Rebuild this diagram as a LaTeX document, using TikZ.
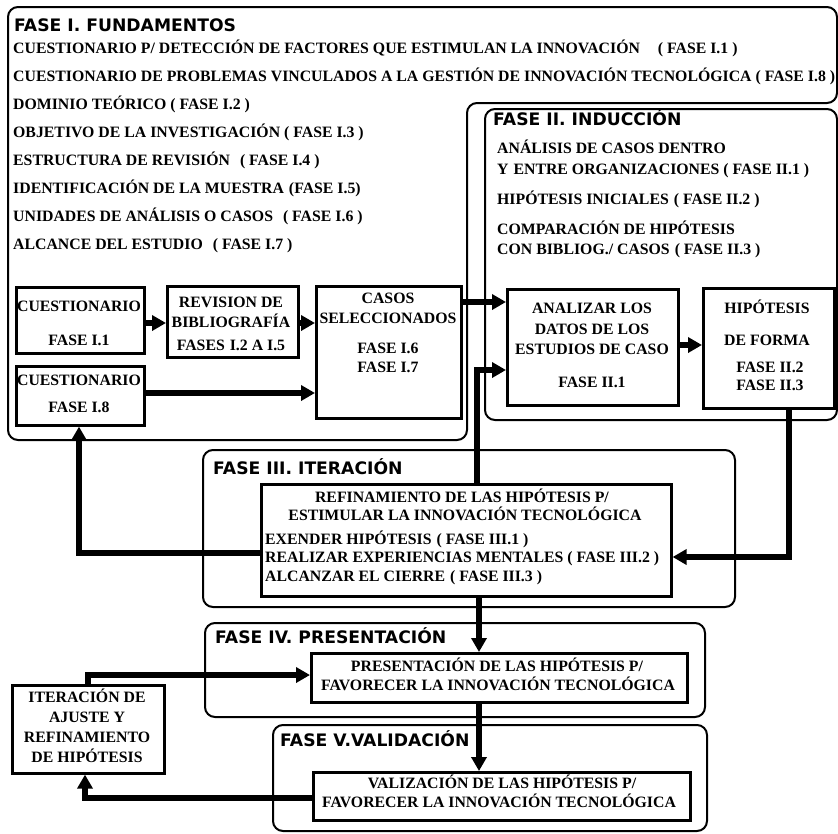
\documentclass[tikz,border=0pt]{standalone}
\usepackage{fontspec}
\setmainfont{Liberation Serif}
\newfontfamily\titlefont{DejaVu Sans}
\usetikzlibrary{arrows.meta}
\begin{document}
\begin{tikzpicture}[x=1pt,y=-1pt,
  phase/.style={draw, line width=2pt, rounded corners=10pt},
  box/.style={draw, line width=2.6pt, inner sep=0pt, fill=white, anchor=north west},
  tx/.style={inner sep=0pt, font=\fontsize{15.8}{18}\selectfont\bfseries},
  ttl/.style={inner sep=0pt, font=\titlefont\fontsize{17.2}{20}\selectfont\bfseries, anchor=base west},
  arr/.style={line width=5.4pt, -{Triangle[length=14pt,width=15pt]}},
]
\useasboundingbox (0,0) rectangle (838,833);
% phase frames
\draw[phase] (8,7) -- (837,7) -- (837,103) -- (467,103) -- (467,440) -- (8,440) -- cycle;
\draw[phase] (485,109) rectangle (837,420);
\draw[phase] (203,450) rectangle (735,607);
\draw[phase] (205,623) rectangle (705,717);
\draw[phase] (273,725) rectangle (707,831);

% Fase I texts
\node[ttl] (t1) at (14,31.5) {FASE I. FUNDAMENTOS};
\node[tx, anchor=base west] (l1) at (13,53) {CUESTIONARIO P/ DETECCIÓN DE FACTORES QUE ESTIMULAN LA INNOVACIÓN\hspace{18pt}( FASE I.1 )};
\node[tx, anchor=base west] (l2) at (13,81) {CUESTIONARIO DE PROBLEMAS VINCULADOS A LA GESTIÓN DE INNOVACIÓN TECNOLÓGICA ( FASE I.8 )};
\node[tx, anchor=base west] (l3) at (13,109) {DOMINIO TEÓRICO ( FASE I.2 )};
\node[tx, anchor=base west] (l4) at (13,137) {OBJETIVO DE LA INVESTIGACIÓN ( FASE I.3 )};
\node[tx, anchor=base west] (l5) at (13,165) {ESTRUCTURA DE REVISIÓN\hspace{10pt}( FASE I.4 )};
\node[tx, anchor=base west] (l6) at (13,193) {IDENTIFICACIÓN DE LA MUESTRA\hspace{5pt}(FASE I.5)};
\node[tx, anchor=base west] (l7) at (13,221) {UNIDADES DE ANÁLISIS O CASOS\hspace{10pt}( FASE I.6 )};
\node[tx, anchor=base west] (l8) at (13,249) {ALCANCE DEL ESTUDIO\hspace{10pt}( FASE I.7 )};

% Fase II texts
\node[ttl] (t2) at (493,125) {FASE II. INDUCCIÓN};
\node[tx, anchor=base west] (m1) at (497,153) {ANÁLISIS DE CASOS DENTRO};
\node[tx, anchor=base west] (m2) at (497,174) {Y\hspace{5pt}ENTRE ORGANIZACIONES ( FASE II.1 )};
\node[tx, anchor=base west] (m3) at (497,204) {HIPÓTESIS INICIALES\hspace{5pt}( FASE II.2 )};
\node[tx, anchor=base west] (m4) at (497,234) {COMPARACIÓN DE HIPÓTESIS};
\node[tx, anchor=base west] (m5) at (497,254) {CON\hspace{4pt}BIBLIOG./ CASOS\hspace{5pt}( FASE II.3 )};

% titles III-V
\node[ttl] (t3) at (213,474) {FASE III. ITERACIÓN};
\node[ttl] (t4) at (215,643) {FASE IV.\hspace{6pt}PRESENTACIÓN};
\node[ttl] (t5) at (280,746) {FASE V.VALIDACIÓN};

% boxes
\node[box, minimum width=128pt, minimum height=66pt] (c1) at (15,286) {};
\node[box, minimum width=131pt, minimum height=71pt] (rev) at (166,285) {};
\node[box, minimum width=128pt, minimum height=59pt] (c8) at (15,365) {};
\node[box, minimum width=145pt, minimum height=132pt] (casos) at (315,285) {};
\node[box, minimum width=171pt, minimum height=116pt] (anal) at (506,288) {};
\node[box, minimum width=131pt, minimum height=120pt] (hip) at (702,287) {};
\node[box, minimum width=410pt, minimum height=112pt] (ref) at (260,483) {};
\node[box, minimum width=376pt, minimum height=49pt] (pres) at (310,652) {};
\node[box, minimum width=377pt, minimum height=48pt] (val) at (312,771) {};
\node[box, minimum width=152pt, minimum height=88pt] (iter) at (11,684) {};

% box texts
\node[tx, anchor=base] (c1a) at (79,311) {CUESTIONARIO};
\node[tx, anchor=base] (c1b) at (79,345) {FASE I.1};
\node[tx, anchor=base] (reva) at (231,307) {REVISION DE};
\node[tx, anchor=base] (revb) at (231,327) {BIBLIOGRAFÍA};
\node[tx, anchor=base] (revc) at (231,350) {FASES\hspace{5pt}I.2 A I.5};
\node[tx, anchor=base] (c8a) at (79,385) {CUESTIONARIO};
\node[tx, anchor=base] (c8b) at (79,412) {FASE I.8};
\node[tx, anchor=base] (casa) at (388,303) {CASOS};
\node[tx, anchor=base] (casb) at (388,323) {SELECCIONADOS};
\node[tx, anchor=base] (casc) at (388,353) {FASE I.6};
\node[tx, anchor=base] (casd) at (388,372) {FASE I.7};
\node[tx, anchor=base] (ana) at (592,313) {ANALIZAR LOS};
\node[tx, anchor=base] (anb) at (592,334) {DATOS DE LOS};
\node[tx, anchor=base] (anc) at (592,354) {ESTUDIOS DE CASO};
\node[tx, anchor=base] (and) at (592,387) {FASE II.1};
\node[tx, anchor=base] (hipa) at (767,313) {HIPÓTESIS};
\node[tx, anchor=base] (hipb) at (767,345) {DE FORMA};
\node[tx, anchor=base] (hipc) at (770,372) {FASE II.2};
\node[tx, anchor=base] (hipd) at (770,390) {FASE II.3};
\node[tx, anchor=base] (refa) at (462,502) {REFINAMIENTO DE LAS HIPÓTESIS P/};
\node[tx, anchor=base] (refb) at (465,520) {ESTIMULAR LA INNOVACIÓN TECNOLÓGICA};
\node[tx, anchor=base west] (refc) at (265,544) {EXENDER HIPÓTESIS\hspace{5pt}( FASE III.1 )};
\node[tx, anchor=base west] (refd) at (265,562) {REALIZAR EXPERIENCIAS MENTALES ( FASE III.2 )};
\node[tx, anchor=base west] (refe) at (265,581) {ALCANZAR EL CIERRE\hspace{5pt}( FASE III.3 )};
\node[tx, anchor=base] (presa) at (497,671) {PRESENTACIÓN DE LAS HIPÓTESIS P/};
\node[tx, anchor=base] (presb) at (498,690) {FAVORECER LA INNOVACIÓN TECNOLÓGICA};
\node[tx, anchor=base] (vala) at (502,788) {VALIZACIÓN DE LAS HIPÓTESIS P/};
\node[tx, anchor=base] (valb) at (499,807) {FAVORECER LA INNOVACIÓN TECNOLÓGICA};
\node[tx, anchor=base] (itera) at (87,702) {ITERACIÓN DE};
\node[tx, anchor=base] (iterb) at (87,722) {AJUSTE Y};
\node[tx, anchor=base] (iterc) at (87,742) {REFINAMIENTO};
\node[tx, anchor=base] (iterd) at (87,762) {DE HIPÓTESIS};

% connectors
\draw[arr] (c1.east |- 0,323) -- (rev.west |- 0,323);
\draw[arr] (rev.east |- 0,323) -- (casos.west |- 0,323);
\draw[arr] (c8.east |- 0,393) -- (casos.west |- 0,393);
\draw[arr] (casos.east |- 0,302) -- (anal.west |- 0,302);
\draw[arr] (anal.east |- 0,345) -- (hip.west |- 0,345);
\draw[arr] (ref.north -| 477,0) -- (477,370) -- (anal.west |- 0,370);
\draw[arr] (hip.south -| 789,0) -- (789,557) -- (ref.east |- 0,557);
\draw[arr] (ref.west |- 0,553) -- (79,553) -- (c8.south -| 79,0);
\draw[arr] (ref.south -| 479,0) -- (pres.north -| 479,0);
\draw[arr] (pres.south -| 479,0) -- (val.north -| 479,0);
\draw[arr] (val.west |- 0,798) -- (85,798) -- (iter.south -| 85,0);
\draw[arr] (iter.north -| 88,0) -- (88,675) -- (pres.west |- 0,675);
\end{tikzpicture}
\end{document}
